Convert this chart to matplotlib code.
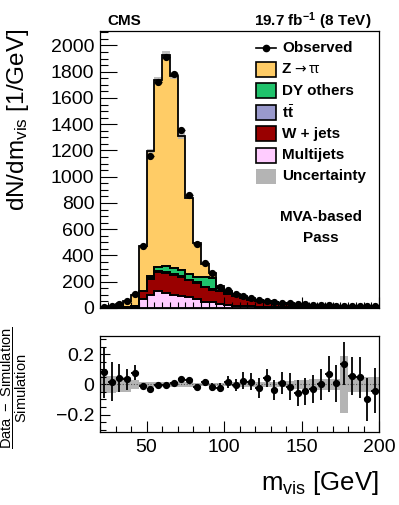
import numpy as np
import matplotlib
matplotlib.use("Agg")
import matplotlib.pyplot as plt
from matplotlib.patches import Rectangle
from matplotlib.lines import Line2D
from matplotlib.ticker import MultipleLocator

plt.rcParams['font.family'] = ['Liberation Sans', 'DejaVu Sans']
plt.rcParams['mathtext.fontset'] = 'custom'
plt.rcParams['mathtext.rm'] = 'Liberation Sans'
plt.rcParams['mathtext.it'] = 'Liberation Sans:italic'
plt.rcParams['mathtext.bf'] = 'Liberation Sans:bold'

# ---------------- data ----------------
bin_lo = 20
bin_hi = 200
bin_width = 5

multijets = [0, 0, 0, 1, 3, 69, 97, 128, 118, 102, 90, 80, 72, 42, 48, 28, 22, 18, 14, 12,
             10, 8, 7, 6, 5, 4, 4, 3, 3, 3, 2, 2, 2, 2, 1, 1]
wjets = [2, 3, 4, 6, 9, 58, 126, 150, 152, 153, 147, 134, 122, 115, 92, 100, 88, 72, 60, 50,
         42, 37, 32, 28, 24, 21, 18, 16, 14, 12, 11, 10, 9, 8, 8, 7]
ttbar = [0, 0, 0, 0, 0, 1, 2, 3, 3, 3, 3, 3, 3, 3, 3, 3, 3, 3, 3, 3,
         2, 2, 2, 2, 2, 2, 2, 2, 2, 2, 2, 2, 2, 2, 2, 2]
dy_others = [0, 0, 1, 1, 2, 5, 20, 33, 45, 43, 50, 41, 38, 73, 87, 20, 10, 8, 6, 5,
             4, 3, 3, 2, 2, 2, 2, 1, 1, 1, 1, 1, 1, 1, 1, 1]
ztautau = [8, 14, 23, 42, 83, 340, 950, 1421, 1607, 1469, 1020, 582, 260, 102, 40, 14, 9, 9, 7, 6,
           5, 3, 3, 2, 2, 3, 2, 4, 3, 2, 1, 1, 0, 0, 1, 1]

observed = [10.8, 17.3, 29.2, 51.7, 104.5, 468.7, 1160.3, 1722.9, 1911.5, 1782.4, 1355.9, 863.5,
            485.1, 339.4, 265.7, 161.4, 133.7, 109.6, 92.2, 77.3, 61.4, 55.1, 45.3, 40.3, 34.5,
            30.1, 26.7, 25.2, 23.0, 21.4, 17.1, 18.2, 14.8, 13.6, 11.7, 11.5]

ratio_err = [0.17, 0.13, 0.095, 0.07, 0.05, 0.018, 0.012, 0.01, 0.01, 0.01, 0.012, 0.015,
             0.02, 0.022, 0.025, 0.03, 0.04, 0.04, 0.055, 0.055, 0.066, 0.06, 0.068, 0.074,
             0.088, 0.086, 0.09, 0.095, 0.104, 0.12, 0.12, 0.14, 0.126, 0.137, 0.143, 0.148]

syst_unc = [0.055, 0.055, 0.05, 0.05, 0.03, 0.015, 0.015, 0.015, 0.015, 0.015, 0.015, 0.015,
            0.012, 0.012, 0.012, 0.012, 0.012, 0.015, 0.015, 0.015, 0.015, 0.018, 0.018, 0.02,
            0.02, 0.03, 0.03, 0.035, 0.035, 0.035, 0.035, 0.19, 0.05, 0.05, 0.05, 0.05]

y_ticks = [0, 200, 400, 600, 800, 1000, 1200, 1400, 1600, 1800, 2000]
x_ticks = [50, 100, 150, 200]
r_ticks = [-0.2, 0, 0.2]

labels = ["Observed", "Z", "DY others", r"t$\bar{\rm t}$",
          "W + jets", "Multijets", "Uncertainty"]
colors = {"ztt": "#FFCC66", "dy": "#1FC26B", "tt": "#9999CC", "w": "#990000", "qcd": "#FFCCFF"}

# ---------------- derived ----------------
edges = np.arange(bin_lo, bin_hi + bin_width, bin_width)
centers = 0.5 * (edges[:-1] + edges[1:])
comps = [np.array(multijets, float), np.array(wjets, float), np.array(ttbar, float),
         np.array(dy_others, float), np.array(ztautau, float)]
ccols = [colors["qcd"], colors["w"], colors["tt"], colors["dy"], colors["ztt"]]
cum = np.cumsum(comps, axis=0)
total = cum[-1]
obs = np.array(observed)
rerr = np.array(ratio_err)
unc = np.array(syst_unc)
ratio = obs / total - 1.0

# ---------------- figure ----------------
W, H = 399, 505
fig = plt.figure(figsize=(W / 100, H / 100), dpi=100)
ax = fig.add_axes([100 / W, (H - 308) / H, 279 / W, 277 / H])
rax = fig.add_axes([100 / W, (H - 432) / H, 279 / W, 96 / H])

prev = np.zeros_like(total)
for c, col in zip(cum, ccols):
    ax.stairs(c, edges, baseline=prev, fill=True, color=col, lw=0)
    prev = c
ax.stairs(total * (1 + unc), edges, baseline=total * (1 - unc), fill=True,
          color="#b4b4b4", lw=0, alpha=0.85)
prev = np.zeros_like(total)
for c in cum:
    ax.stairs(c, edges, baseline=prev, fill=False, color="black", lw=1.3)
    prev = c
ax.errorbar(centers, obs, yerr=rerr * total, xerr=bin_width / 2, fmt="o", color="black",
            ms=4.2, lw=1.0, capsize=0, zorder=5)

ax.set_xlim(bin_lo, bin_hi)
ax.set_ylim(0, 2110)
ax.set_yticks(y_ticks)
ax.yaxis.set_minor_locator(MultipleLocator(50))
ax.xaxis.set_major_locator(MultipleLocator(50))
ax.xaxis.set_minor_locator(MultipleLocator(5))
ax.tick_params(axis="both", which="both", direction="in", top=False, right=False)
ax.tick_params(axis="y", which="major", length=12, width=0.8, labelsize=14, pad=4)
ax.tick_params(axis="y", which="minor", length=6, width=0.8)
ax.tick_params(axis="x", which="major", length=8, width=0.8, labelbottom=False)
ax.tick_params(axis="x", which="minor", length=4, width=0.8)
for s in ax.spines.values():
    s.set_linewidth(0.9)

# ratio
rax.stairs(unc, edges, baseline=-unc, fill=True, color="#b4b4b4", lw=0)
rax.axhline(0, ls=(0, (1, 1.5)), color="#555555", lw=0.8)
rax.errorbar(centers, ratio, yerr=rerr, xerr=bin_width / 2, fmt="o", color="black",
             ms=4.2, lw=1.3, capsize=0, zorder=5)
rax.set_xlim(bin_lo, bin_hi)
rax.set_ylim(-0.315, 0.32)
rax.set_yticks(r_ticks)
rax.set_yticklabels(["\u22120.2", "0", "0.2"])
rax.set_xticks(x_ticks)
rax.yaxis.set_minor_locator(MultipleLocator(0.05))
rax.xaxis.set_minor_locator(MultipleLocator(10))
rax.tick_params(axis="both", which="both", direction="in", top=False, right=False)
rax.tick_params(axis="y", which="major", length=7, width=0.8, labelsize=14, pad=4)
rax.tick_params(axis="y", which="minor", length=4, width=0.8)
rax.tick_params(axis="x", which="major", length=8, width=0.8, labelsize=14, pad=5)
rax.tick_params(axis="x", which="minor", length=4, width=0.8)
for s in rax.spines.values():
    s.set_linewidth(0.9)

# labels
fig.text(18 / W, 1 - 29 / H, r"dN/dm$_{\rm vis}$ [1/GeV]", rotation=90, ha="center",
         va="top", fontsize=17.5)
fig.text(379 / W, 1 - 483 / H, r"m$_{\rm vis}$ [GeV]", ha="right", va="center", fontsize=18.5)
fig.text(14 / W, 1 - 388 / H, r"$\dfrac{\rm Data\ -\ Simulation}{\rm Simulation}$",
         rotation=90, ha="center", va="center", fontsize=10.5)
fig.text(107 / W, 1 - 21 / H, "CMS", ha="left", va="center", fontsize=11, fontweight="bold")
fig.text(371 / W, 1 - 21 / H, r"19.7 fb$^{\mathbf{-1}}$ (8 TeV)", ha="right", va="center",
         fontsize=11, fontweight="bold")

# legend (manual, axes-fraction coordinates)
def fx(px):
    return (px - 100) / 279


def fy(py):
    return (308 - py) / 277


ys = [48 + 21.4 * i for i in range(7)]
ax.add_line(Line2D([fx(256), fx(276)], [fy(ys[0])] * 2, color="black", lw=1.2,
                   transform=ax.transAxes, clip_on=False))
ax.add_line(Line2D([fx(266)], [fy(ys[0])], marker="o", ms=4.5, color="black",
                   transform=ax.transAxes, clip_on=False))
sw_cols = [colors["ztt"], colors["dy"], colors["tt"], colors["w"], colors["qcd"], "#b4b4b4"]
for i, col in enumerate(sw_cols):
    y = ys[i + 1]
    edge = "black" if i < 5 else "none"
    ax.add_patch(Rectangle((fx(256), fy(y + 7.5)), fx(276) - fx(256), fy(y - 7.5) - fy(y + 7.5),
                           facecolor=col, edgecolor=edge, lw=1.2, transform=ax.transAxes,
                           clip_on=False, zorder=6))
for i, lab in enumerate(labels):
    if i == 1:
        ax.text(fx(282), fy(ys[i]), "Z", transform=ax.transAxes, ha="left", va="center",
                fontsize=11, fontweight="bold")
        ax.text(fx(294), fy(ys[i]), "\u2192", transform=ax.transAxes, ha="left",
                va="center", fontsize=10, family="DejaVu Sans")
        ax.text(fx(309), fy(ys[i]), "\u03c4\u03c4", transform=ax.transAxes, ha="left",
                va="center", fontsize=10)
    elif i == 3:
        ax.text(fx(282), fy(ys[i]), r"$\mathbf{t}\bar{\mathbf{t}}$", transform=ax.transAxes,
                ha="left", va="center", fontsize=11)
    else:
        ax.text(fx(282), fy(ys[i]), lab, transform=ax.transAxes, ha="left", va="center",
                fontsize=11, fontweight="bold")
ax.text(fx(321), fy(217), "MVA-based", transform=ax.transAxes, ha="center", va="center",
        fontsize=11, fontweight="bold")
ax.text(fx(321), fy(238), "Pass", transform=ax.transAxes, ha="center", va="center",
        fontsize=11, fontweight="bold")

fig.savefig("out.png", dpi=100)
